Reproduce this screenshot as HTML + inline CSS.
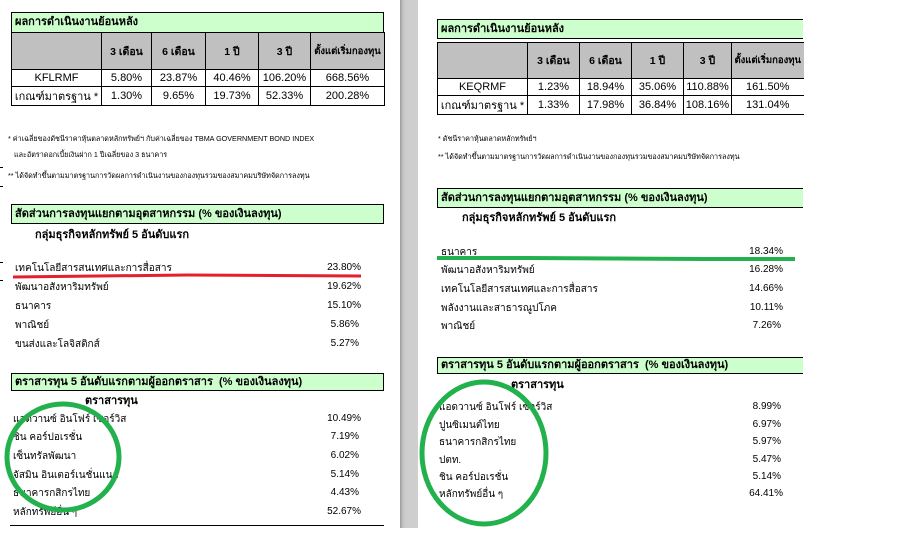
<!DOCTYPE html>
<html><head><meta charset="utf-8">
<style>
*{margin:0;padding:0;box-sizing:border-box}
body{width:898px;height:557px;background:#fff;position:relative;overflow:hidden;font-family:"Liberation Sans","DejaVu Sans",sans-serif;color:#000}
.a{position:absolute;white-space:nowrap}
.gh{position:absolute;background:#ccffcc;border:1px solid #000;font-weight:bold;font-size:11px;line-height:18px;padding-left:3px}
table{position:absolute;border-collapse:collapse;table-layout:fixed}
td{border:1px solid #000;text-align:center;font-size:11px;padding:0;overflow:hidden;white-space:nowrap}
tr.h td{background:#c0c0c0;font-weight:bold;font-size:10.5px}
.n{font-size:7.2px}
.it{font-size:10px}
.p{font-size:10px;text-align:right}
.sub{font-size:11px;font-weight:bold}
</style></head><body>

<div class="a" style="left:400px;top:0;width:18px;height:528px;background:linear-gradient(to right,#9a9a9a 0,#c4c4c4 3px,#cdcdcd 6px,#cfcfcf 100%)"></div>

<div class="a" style="left:0;top:167px;width:3px;height:1px;background:#000"></div>
<div class="a" style="left:0;top:186px;width:3px;height:1px;background:#000"></div>
<div class="a" style="left:0;top:262px;width:3px;height:1px;background:#000"></div>
<div class="a" style="left:0;top:280px;width:3px;height:1px;background:#000"></div>

<!-- LEFT PAGE -->
<div class="gh" style="left:11px;top:12px;width:373px;height:21px">ผลการดำเนินงานย้อนหลัง</div>
<table style="left:11px;top:32px;width:373px">
<colgroup><col style="width:90px"><col style="width:50px"><col style="width:54px"><col style="width:53px"><col style="width:52px"><col style="width:74px"></colgroup>
<tr class="h" style="height:37px"><td></td><td>3 เดือน</td><td>6 เดือน</td><td>1 ปี</td><td>3 ปี</td><td style="font-size:9.5px">ตั้งแต่เริ่มกองทุน</td></tr>
<tr style="height:17px"><td>KFLRMF</td><td>5.80%</td><td>23.87%</td><td>40.46%</td><td>106.20%</td><td>668.56%</td></tr>
<tr style="height:18px"><td>เกณฑ์มาตรฐาน *</td><td>1.30%</td><td>9.65%</td><td>19.73%</td><td>52.33%</td><td>200.28%</td></tr>
</table>

<div class="a n" style="left:8px;top:134px">* ค่าเฉลี่ยของดัชนีราคาหุ้นตลาดหลักทรัพย์ฯ กับค่าเฉลี่ยของ TBMA GOVERNMENT BOND INDEX</div>
<div class="a n" style="left:14px;top:150px">และอัตราดอกเบี้ยเงินฝาก 1 ปีเฉลี่ยของ 3 ธนาคาร</div>
<div class="a n" style="left:8px;top:171px">** ได้จัดทำขึ้นตามมาตรฐานการวัดผลการดำเนินงานของกองทุนรวมของสมาคมบริษัทจัดการลงทุน</div>

<div class="gh" style="left:11px;top:204px;width:373px;height:20px">สัดส่วนการลงทุนแยกตามอุตสาหกรรม (% ของเงินลงทุน)</div>
<div class="a sub" style="left:35px;top:225px">กลุ่มธุรกิจหลักทรัพย์ 5 อันดับแรก</div>
<div class="a it" style="left:15px;top:261px">เทคโนโลยีสารสนเทศและการสื่อสาร</div>
<div class="a it" style="left:15px;top:280px">พัฒนาอสังหาริมทรัพย์</div>
<div class="a it" style="left:15px;top:299px">ธนาคาร</div>
<div class="a it" style="left:15px;top:318px">พาณิชย์</div>
<div class="a it" style="left:15px;top:337px">ขนส่งและโลจิสติกส์</div>
<div class="a p" style="right:537px;top:262px">23.80%</div>
<div class="a p" style="right:537px;top:281px">19.62%</div>
<div class="a p" style="right:537px;top:300px">15.10%</div>
<div class="a p" style="right:539px;top:319px">5.86%</div>
<div class="a p" style="right:539px;top:338px">5.27%</div>

<div class="gh" style="left:11px;top:373px;width:373px;height:18px;line-height:16px">ตราสารทุน 5 อันดับแรกตามผู้ออกตราสาร&nbsp; (% ของเงินลงทุน)</div>
<div class="a sub" style="left:85px;top:391px">ตราสารทุน</div>
<div class="a it" style="left:13px;top:412px">แอดวานซ์ อินโฟร์ เซอร์วิส</div>
<div class="a it" style="left:13px;top:430px">ชิน คอร์ปอเรชั่น</div>
<div class="a it" style="left:13px;top:449px">เซ็นทรัลพัฒนา</div>
<div class="a it" style="left:13px;top:468px">จัสมิน อินเตอร์เนชั่นแนล</div>
<div class="a it" style="left:13px;top:486px">ธนาคารกสิกรไทย</div>
<div class="a it" style="left:13px;top:505px">หลักทรัพย์อื่น ๆ</div>
<div class="a p" style="right:537px;top:413px">10.49%</div>
<div class="a p" style="right:539px;top:431px">7.19%</div>
<div class="a p" style="right:539px;top:450px">6.02%</div>
<div class="a p" style="right:539px;top:469px">5.14%</div>
<div class="a p" style="right:539px;top:487px">4.43%</div>
<div class="a p" style="right:537px;top:506px">52.67%</div>
<div class="a" style="left:10px;top:525px;width:374px;height:1px;background:#000"></div>

<!-- RIGHT PAGE -->
<div class="gh" style="left:437px;top:19px;width:366px;height:20px;border-right:none">ผลการดำเนินงานย้อนหลัง</div>
<table style="left:437px;top:42px;width:366px">
<colgroup><col style="width:90px"><col style="width:52px"><col style="width:52px"><col style="width:52px"><col style="width:48px"><col style="width:72px"></colgroup>
<tr class="h" style="height:36px"><td></td><td>3 เดือน</td><td>6 เดือน</td><td>1 ปี</td><td>3 ปี</td><td style="font-size:9.5px;border-right:none">ตั้งแต่เริ่มกองทุน</td></tr>
<tr style="height:17px"><td>KEQRMF</td><td>1.23%</td><td>18.94%</td><td>35.06%</td><td>110.88%</td><td style="border-right:none">161.50%</td></tr>
<tr style="height:17px"><td>เกณฑ์มาตรฐาน *</td><td>1.33%</td><td>17.98%</td><td>36.84%</td><td>108.16%</td><td style="border-right:none">131.04%</td></tr>
</table>

<div class="a n" style="left:438px;top:134px">* ดัชนีราคาหุ้นตลาดหลักทรัพย์ฯ</div>
<div class="a n" style="left:438px;top:152px">** ได้จัดทำขึ้นตามมาตรฐานการวัดผลการดำเนินงานของกองทุนรวมของสมาคมบริษัทจัดการลงทุน</div>

<div class="gh" style="left:437px;top:188px;width:366px;height:20px;border-right:none">สัดส่วนการลงทุนแยกตามอุตสาหกรรม (% ของเงินลงทุน)</div>
<div class="a sub" style="left:462px;top:208px">กลุ่มธุรกิจหลักทรัพย์ 5 อันดับแรก</div>
<div class="a it" style="left:441px;top:245px">ธนาคาร</div>
<div class="a it" style="left:441px;top:263px">พัฒนาอสังหาริมทรัพย์</div>
<div class="a it" style="left:441px;top:282px">เทคโนโลยีสารสนเทศและการสื่อสาร</div>
<div class="a it" style="left:441px;top:301px">พลังงานและสาธารณูปโภค</div>
<div class="a it" style="left:441px;top:319px">พาณิชย์</div>
<div class="a p" style="right:115px;top:246px">18.34%</div>
<div class="a p" style="right:115px;top:264px">16.28%</div>
<div class="a p" style="right:115px;top:283px">14.66%</div>
<div class="a p" style="right:115px;top:302px">10.11%</div>
<div class="a p" style="right:117px;top:320px">7.26%</div>

<div class="gh" style="left:437px;top:357px;width:366px;height:17px;line-height:15px;border-right:none">ตราสารทุน 5 อันดับแรกตามผู้ออกตราสาร&nbsp; (% ของเงินลงทุน)</div>
<div class="a sub" style="left:511px;top:375px">ตราสารทุน</div>
<div class="a it" style="left:439px;top:400px">แอดวานซ์ อินโฟร์ เซอร์วิส</div>
<div class="a it" style="left:439px;top:418px">ปูนซิเมนต์ไทย</div>
<div class="a it" style="left:439px;top:435px">ธนาคารกสิกรไทย</div>
<div class="a it" style="left:439px;top:453px">ปตท.</div>
<div class="a it" style="left:439px;top:470px">ชิน คอร์ปอเรชั่น</div>
<div class="a it" style="left:439px;top:487px">หลักทรัพย์อื่น ๆ</div>
<div class="a p" style="right:117px;top:401px">8.99%</div>
<div class="a p" style="right:117px;top:419px">6.97%</div>
<div class="a p" style="right:117px;top:436px">5.97%</div>
<div class="a p" style="right:117px;top:454px">5.47%</div>
<div class="a p" style="right:117px;top:471px">5.14%</div>
<div class="a p" style="right:115px;top:488px">64.41%</div>

<svg class="a" style="left:0;top:0" width="898" height="557" viewBox="0 0 898 557">
<path d="M13 277 L187 275 L361 276" stroke="#e3202b" stroke-width="3" fill="none"/>
<path d="M437 258 L528 258 L704 259 L795 259" stroke="#22b14c" stroke-width="4" fill="none"/>
<ellipse cx="63" cy="457" rx="56" ry="53" stroke="#22b14c" stroke-width="5" fill="none"/>
<ellipse cx="484" cy="453" rx="62" ry="71" stroke="#22b14c" stroke-width="5" fill="none"/>
</svg>
</body></html>
